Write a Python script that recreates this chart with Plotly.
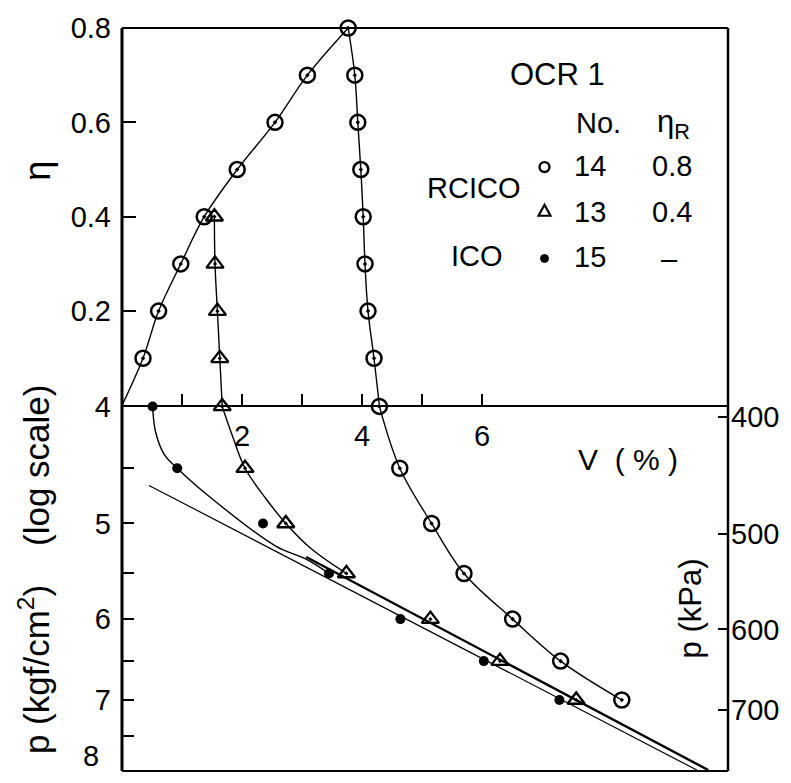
import plotly.graph_objects as go
import math

# ---------------- data ----------------
# upper panel: eta vs V (%)
eta_load = [0.1, 0.2, 0.3, 0.4, 0.5, 0.6, 0.7, 0.8]
V14_load = [0.35, 0.61, 0.98, 1.37, 1.92, 2.55, 3.09, 3.77]
eta_unload14 = [0.8, 0.7, 0.6, 0.5, 0.4, 0.3, 0.2, 0.1, 0.0]
V14_unload = [3.77, 3.88, 3.93, 3.98, 4.02, 4.05, 4.10, 4.20, 4.29]
eta_unload13 = [0.4, 0.3, 0.2, 0.1, 0.0]
V13_unload = [1.54, 1.55, 1.59, 1.63, 1.67]

# lower panel: p (kgf/cm2) vs V (%)
p_levels = [4.0, 4.5, 5.0, 5.5, 6.0, 6.5, 7.0]
V14_p = [4.29, 4.63, 5.16, 5.70, 6.51, 7.31, 8.33]
V13_p = [1.67, 2.05, 2.73, 3.74, 5.14, 6.30, 7.57]
V15_p = [0.51, 0.92, 2.35, 3.45, 4.64, 6.03, 7.29]

# fitted curves
V15_curve = [0.51, 0.56, 0.70, 0.92, 1.50, 2.56, 3.06, 3.45]
p15_curve = [4.0, 4.2, 4.38, 4.5, 4.77, 5.22, 5.35, 5.5]
V13_curve = [1.67, 1.84, 2.05, 2.40, 2.73, 3.16, 3.74]
p13_curve = [4.0, 4.23, 4.5, 4.77, 5.0, 5.25, 5.5]
V_ico_line = [0.45, 9.58]
p_ico_line = [4.65, 8.0]
V_rcico_line = [3.07, 9.77]
p_rcico_line = [5.33, 8.0]

eta_ticks = [0.2, 0.4, 0.6, 0.8]
eta_ticktext = ["0.2", "0.4", "0.6", "0.8"]
p_ticks = [4, 5, 6, 7]
p_ticktext = ["4", "5", "6", "7"]
p_minor = [4.5, 5.5, 6.5, 7.5]
kpa_ticks = [400, 500, 600, 700]
v_ticks = [2, 4, 6]
v_ticktext = ["2", "4", "6"]
v_minor = [1, 3, 5]
KGF_TO_KPA = 98.0665

FONT = "Liberation Sans"
BLACK = "black"

fig = go.Figure()

line_thin = dict(color=BLACK, width=1.4, shape="spline")
m_circ = dict(symbol="circle-open-dot", size=15, color=BLACK, line=dict(width=2.5, color=BLACK))
m_tri = dict(symbol="triangle-up-open-dot", size=15, color=BLACK, line=dict(width=2.3, color=BLACK))
m_dot = dict(symbol="circle", size=10, color=BLACK)

# ---- upper panel ----
fig.add_trace(go.Scatter(x=[0.0] + V14_load, y=[0.0] + eta_load, mode="lines",
                         line=line_thin, xaxis="x", yaxis="y", cliponaxis=False))
fig.add_trace(go.Scatter(x=V14_unload, y=eta_unload14, mode="lines",
                         line=line_thin, xaxis="x", yaxis="y", cliponaxis=False))
fig.add_trace(go.Scatter(x=V13_unload, y=eta_unload13, mode="lines",
                         line=line_thin, xaxis="x", yaxis="y", cliponaxis=False))
# (eta = 0 points coincide with p = 4 points of the lower panel; drawn there)
fig.add_trace(go.Scatter(x=V14_load + V14_unload[1:-1], y=eta_load + eta_unload14[1:-1], mode="markers",
                         marker=m_circ, xaxis="x", yaxis="y", cliponaxis=False))
fig.add_trace(go.Scatter(x=V13_unload[:-1], y=eta_unload13[:-1], mode="markers",
                         marker=m_tri, xaxis="x", yaxis="y", cliponaxis=False))

# ---- lower panel ----
fig.add_trace(go.Scatter(x=V_ico_line, y=p_ico_line, mode="lines",
                         line=dict(color=BLACK, width=1.2), xaxis="x", yaxis="y2", cliponaxis=False))
fig.add_trace(go.Scatter(x=V_rcico_line, y=p_rcico_line, mode="lines",
                         line=dict(color=BLACK, width=2.4), xaxis="x", yaxis="y2", cliponaxis=False))
fig.add_trace(go.Scatter(x=V15_curve, y=p15_curve, mode="lines",
                         line=line_thin, xaxis="x", yaxis="y2", cliponaxis=False))
fig.add_trace(go.Scatter(x=V13_curve, y=p13_curve, mode="lines",
                         line=line_thin, xaxis="x", yaxis="y2", cliponaxis=False))
fig.add_trace(go.Scatter(x=V14_p, y=p_levels, mode="lines",
                         line=line_thin, xaxis="x", yaxis="y2", cliponaxis=False))
fig.add_trace(go.Scatter(x=V14_p, y=p_levels, mode="markers",
                         marker=m_circ, xaxis="x", yaxis="y2", cliponaxis=False))
fig.add_trace(go.Scatter(x=V13_p, y=p_levels, mode="markers",
                         marker=m_tri, xaxis="x", yaxis="y2", cliponaxis=False))
fig.add_trace(go.Scatter(x=V15_p, y=p_levels, mode="markers",
                         marker=m_dot, xaxis="x", yaxis="y2", cliponaxis=False))

# ---- layout geometry (pixels) ----
W, H = 791, 783
L, R, T, B = 122, 733, 23, 771
MID = 403


def px(x):
    return (x - L) / (R - L)


def py(y):
    return (B - y) / (B - T)


tickfont = dict(family=FONT, size=29, color=BLACK)
EPS = 0.0008

fig.update_layout(
    width=W, height=H,
    margin=dict(l=L, r=W - R, t=T, b=H - B),
    paper_bgcolor="white", plot_bgcolor="white",
    showlegend=False,
    font=dict(family=FONT, color=BLACK),
    xaxis=dict(range=[0, 10.1], anchor="y", showgrid=False, zeroline=False,
               showline=True, linecolor=BLACK, linewidth=2,
               tickvals=v_ticks, ticktext=v_ticktext, ticks="inside", ticklen=11,
               tickwidth=1.5, tickcolor=BLACK, tickfont=tickfont, ticklabelstandoff=4,
               minor=dict(tickvals=v_minor, ticks="inside", ticklen=11, tickwidth=1.5,
                          tickcolor=BLACK, showgrid=False)),
    yaxis=dict(domain=[py(MID), 1], range=[0, 0.8], showgrid=False, zeroline=False,
               showline=False, tickvals=eta_ticks, ticktext=eta_ticktext,
               ticks="inside", ticklen=14, tickwidth=1.5, tickcolor=BLACK,
               tickfont=tickfont, ticklabelstandoff=10),
    yaxis2=dict(domain=[0, py(MID)], type="log",
                range=[math.log10(8) + EPS, math.log10(4) - EPS],
                anchor="x", showgrid=False, zeroline=False, showline=False,
                tickvals=p_ticks, ticktext=p_ticktext, ticks="inside", ticklen=12,
                tickwidth=1.5, tickcolor=BLACK, tickfont=tickfont, ticklabelstandoff=10,
                minor=dict(tickvals=p_minor, ticks="inside", ticklen=12, tickwidth=1.5,
                           tickcolor=BLACK, showgrid=False)),
    yaxis3=dict(overlaying="y2", side="right", anchor="x", type="log",
                range=[math.log10(8 * KGF_TO_KPA) + EPS, math.log10(4 * KGF_TO_KPA) - EPS],
                showgrid=False, zeroline=False, showline=False,
                tickvals=kpa_ticks, ticktext=[str(v) for v in kpa_ticks],
                ticks="inside", ticklen=10, tickwidth=1.5, tickcolor=BLACK,
                tickfont=tickfont, ticklabelstandoff=2),
)
# dummy trace to activate yaxis3
fig.add_trace(go.Scatter(x=[None], y=[None], xaxis="x", yaxis="y3", mode="markers", hoverinfo="skip"))

shapes = [
    # frame
    dict(type="line", xref="paper", yref="paper", x0=0, x1=1, y0=1, y1=1, line=dict(color=BLACK, width=2)),
    dict(type="line", xref="paper", yref="paper", x0=1, x1=1, y0=0, y1=1, line=dict(color=BLACK, width=2.5)),
    dict(type="line", xref="paper", yref="paper", x0=0, x1=1, y0=0, y1=0, line=dict(color=BLACK, width=2)),
    dict(type="line", xref="paper", yref="paper", x0=0, x1=0, y0=0, y1=1, line=dict(color=BLACK, width=3)),
    # legend symbols
    dict(type="circle", xref="paper", yref="paper", x0=px(543), x1=px(553), y0=py(158), y1=py(168),
         line=dict(color=BLACK, width=2.4)),
    dict(type="path", xref="paper", yref="paper",
         path=f"M {px(542)} {py(212)} L {px(554)} {py(212)} L {px(548)} {py(201)} Z",
         line=dict(color=BLACK, width=2.2)),
    dict(type="circle", xref="paper", yref="paper", x0=px(544), x1=px(552), y0=py(251), y1=py(259),
         fillcolor=BLACK, line=dict(color=BLACK, width=1)),
]
fig.update_layout(shapes=shapes)


def ann(text, x, y, size=29, angle=0):
    return dict(text=text, x=px(x), y=py(y), xref="paper", yref="paper", showarrow=False,
                xanchor="center", yanchor="middle", textangle=angle,
                font=dict(family=FONT, size=size, color=BLACK))


annotations = [
    ann("8", 91, 756, size=29),
    ann("η", 36, 167, size=36, angle=-90),
    ann("p (kgf/cm<sup>2</sup>)    (log scale)", 34, 568, size=35, angle=-90),
    ann("p (kPa)", 695, 607, size=31, angle=-90),
    ann("V  ( % )", 632, 457, size=30),
    ann("OCR 1", 561, 70, size=31),
    ann("No.", 602, 119, size=29),
    ann("η<sub>R</sub>", 678, 120, size=31),
    ann("14", 594, 162, size=29),
    ann("0.8", 677, 162, size=29),
    ann("RCICO", 476, 184, size=29),
    ann("13", 594, 208, size=29),
    ann("0.4", 677, 208, size=29),
    ann("ICO", 480, 253, size=29),
    ann("15", 594, 254, size=29),
    ann("–", 674, 256, size=29),
]
fig.update_layout(annotations=annotations)

fig.write_html("out.html")
